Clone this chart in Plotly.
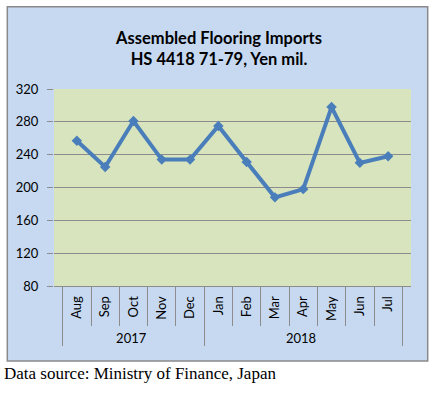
import plotly.graph_objects as go

years = ["2017"] * 5 + ["2018"] * 7
months = ["Aug", "Sep", "Oct", "Nov", "Dec", "Jan", "Feb", "Mar", "Apr", "May", "Jun", "Jul"]
values = [257, 225, 281, 234, 234, 275, 231, 188, 198, 298, 230, 238]
y_ticks = [80, 120, 160, 200, 240, 280, 320]

W, H = 434, 395
L, R, T, B = 54, 411, 89, 286
pw, ph = R - L, B - T

def px(x):
    return (x - L) / pw

def py(y):
    return (B - y) / ph

fig = go.Figure()
fig.add_trace(go.Scatter(
    x=[years, months], y=values, mode="lines+markers",
    line=dict(color="#4a7ebb", width=4),
    marker=dict(symbol="diamond", size=8, color="#4a7ebb"),
    showlegend=False, hoverinfo="skip",
))

font_main = "Lato, 'Open Sans', sans-serif"

fig.update_layout(
    width=W, height=H,
    margin=dict(l=L, r=W - R, t=T, b=H - B, pad=0, autoexpand=False),
    paper_bgcolor="white",
    plot_bgcolor="rgba(0,0,0,0)",
    font=dict(family=font_main, size=13, color="#000000"),
    title=dict(
        text="<b>Assembled Flooring Imports<br>HS 4418 71-79, Yen mil.</b>",
        x=219 / W, xref="container", xanchor="center",
        y=1 - 44 / H, yref="container", yanchor="middle",
        font=dict(family=font_main, size=16.5, color="#000000"),
        automargin=False,
    ),
    shapes=[
        dict(type="rect", xref="paper", yref="paper",
             x0=px(7.3), x1=px(427.7), y0=py(361), y1=py(6.7),
             fillcolor="#c6d9f1", line=dict(color="#8a8a8a", width=1.5), layer="below"),
        dict(type="rect", xref="x domain", yref="y domain",
             x0=0, x1=1, y0=0, y1=1,
             fillcolor="#d7e4bd", line=dict(width=0), layer="below"),
    ],
    annotations=[
        dict(text="Data source: Ministry of Finance, Japan", xref="paper", yref="paper",
             x=px(1.5), y=py(373), xanchor="left", yanchor="middle", showarrow=False,
             font=dict(family="'Liberation Serif', 'Times New Roman', serif", size=17, color="#000000")),
    ],
)

fig.update_xaxes(
    type="multicategory", automargin=False,
    showline=True, linecolor="#8c8c8c", linewidth=1,
    ticks="outside", tickson="boundaries", ticklen=39, tickcolor="#8c8c8c", tickwidth=1,
    tickangle=-90, ticklabelstandoff=4,
    showdividers=True, dividercolor="#8c8c8c", dividerwidth=1,
    showgrid=False,
    tickfont=dict(family=font_main, size=13, color="#000000"),
)
fig.update_yaxes(
    automargin=False,
    range=[80, 320], tickvals=y_ticks, ticktext=[str(v) for v in y_ticks],
    showgrid=True, gridcolor="#8c8c8c", gridwidth=1,
    showline=False, zeroline=False,
    ticks="outside", ticklen=6, tickcolor="#8c8c8c",
    ticklabelstandoff=6,
    tickfont=dict(family=font_main, size=13, color="#000000"),
)

fig.write_html(
    "out.html",
    config={"displayModeBar": False, "staticPlot": True},
    post_script="document.body.style.margin='0';document.body.style.overflow='hidden';",
)
